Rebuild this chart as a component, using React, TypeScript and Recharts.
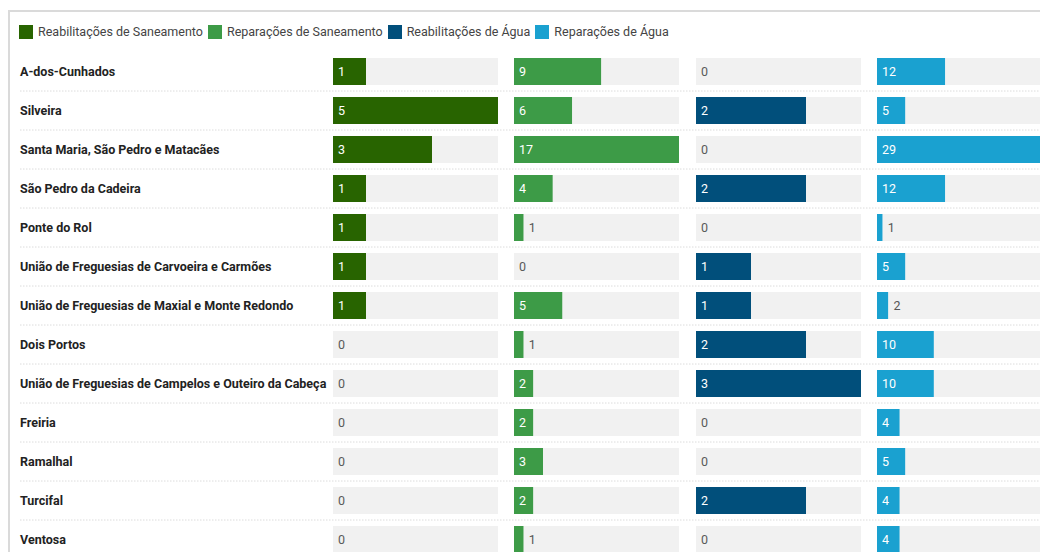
import React from 'react';
import { BarChart, Bar, XAxis, YAxis, Legend, LabelList } from 'recharts';

const freguesias = [
  'A-dos-Cunhados',
  'Silveira',
  'Santa Maria, São Pedro e Matacães',
  'São Pedro da Cadeira',
  'Ponte do Rol',
  'União de Freguesias de Carvoeira e Carmões',
  'União de Freguesias de Maxial e Monte Redondo',
  'Dois Portos',
  'União de Freguesias de Campelos e Outeiro da Cabeça',
  'Freiria',
  'Ramalhal',
  'Turcifal',
  'Ventosa',
];

const reabilitacoesSaneamento = [1, 5, 3, 1, 1, 1, 1, 0, 0, 0, 0, 0, 0];
const reparacoesSaneamento = [9, 6, 17, 4, 1, 0, 5, 1, 2, 2, 3, 2, 1];
const reabilitacoesAgua = [0, 2, 0, 2, 0, 1, 1, 2, 3, 0, 0, 2, 0];
const reparacoesAgua = [12, 5, 29, 12, 1, 5, 2, 10, 10, 4, 5, 4, 4];

const seriesNames = [
  'Reabilitações de Saneamento',
  'Reparações de Saneamento',
  'Reabilitações de Água',
  'Reparações de Água',
];
const seriesColors = ['#286400', '#3d9b47', '#014f7b', '#1aa1d0'];
const seriesValues = [reabilitacoesSaneamento, reparacoesSaneamento, reabilitacoesAgua, reparacoesAgua];

const maxes = seriesValues.map((v) => Math.max(...v));
const data = freguesias.map((name, i) => {
  const row: any = { name };
  seriesValues.forEach((vals, s) => {
    row[`v${s}`] = vals[i];
    row[`r${s}`] = maxes[s] - vals[i];
  });
  return row;
});

const CHART_H = 559;
const LABEL_W = 333;
const COL_W = 165;
const COL_PITCH = 181.33;
const TRACK = '#f1f1f1';
const FONT = 'Roboto, "Noto Sans", sans-serif';
const MARGIN = { top: 52, right: 0, bottom: 0, left: 0 };

const RowTick = (props: any) => {
  const { y, payload } = props;
  return (
    <g>
      <line x1={20} x2={1040} y1={y + 19.5} y2={y + 19.5} stroke="#dcdcdc" strokeDasharray="1.5 1.5" />
      <text x={20} y={y} dy="0.35em" textAnchor="start" fontSize={12.5} fontWeight={700} fill="#222" fontFamily={FONT}>
        {payload.value}
      </text>
    </g>
  );
};

const ValueLabel = (props: any) => {
  const { x, y, width, height, value } = props;
  const w = Number(width) || 0;
  if (!(Number(value) > 0) || w <= 0) return null;
  const tw = String(value).length * 7;
  const inside = w >= tw + 10;
  return (
    <text
      x={inside ? Number(x) + 5 : Number(x) + w + 5}
      y={Number(y) + Number(height) / 2}
      dy="0.35em"
      fontSize={12.5}
      fontFamily={FONT}
      fill={inside ? '#ffffff' : '#555555'}
    >
      {value}
    </text>
  );
};

const ZeroLabel = (props: any) => {
  const { x, y, height, value } = props;
  if (Number(value) !== 0) return null;
  return (
    <text x={Number(x) + 5} y={Number(y) + Number(height) / 2} dy="0.35em" fontSize={12.5} fontFamily={FONT} fill="#5a5a5a">
      {value}
    </text>
  );
};

const LegendContent = () => (
  <div style={{ display: 'flex', alignItems: 'center', fontSize: 12.5, color: '#444', fontFamily: FONT, whiteSpace: 'nowrap' }}>
    {seriesNames.map((name, s) => (
      <div key={name} style={{ display: 'flex', alignItems: 'center', marginRight: 5 }}>
        <span style={{ width: 14, height: 14, background: seriesColors[s], marginRight: 5, display: 'inline-block' }} />
        <span>{name}</span>
      </div>
    ))}
  </div>
);

function ColumnChart({ s }: { s: number }) {
  const first = s === 0;
  return (
    <BarChart
      width={first ? LABEL_W + COL_W : COL_W}
      height={CHART_H}
      data={data}
      layout="vertical"
      margin={MARGIN}
      barSize={27}
    >
      {first && (
        <Legend
          verticalAlign="middle"
          align="center"
          content={<LegendContent />}
          wrapperStyle={{ top: 24, left: 19, width: 'auto' }}
        />
      )}
      <XAxis type="number" domain={[0, maxes[s]]} allowDataOverflow hide />
      <YAxis
        type="category"
        dataKey="name"
        width={first ? LABEL_W : 0}
        hide={!first}
        interval={0}
        tickLine={false}
        axisLine={false}
        tick={<RowTick />}
      />
      <Bar dataKey={`v${s}`} name={seriesNames[s]} stackId="c" fill={seriesColors[s]} isAnimationActive={false}>
        <LabelList dataKey={`v${s}`} content={<ValueLabel />} />
      </Bar>
      <Bar dataKey={`r${s}`} stackId="c" fill={TRACK} legendType="none" isAnimationActive={false}>
        <LabelList dataKey={`v${s}`} content={<ZeroLabel />} />
      </Bar>
    </BarChart>
  );
}

export default function App() {
  return (
    <div style={{ position: 'absolute', left: 0, top: 0, width: 1040, height: 552, overflow: 'hidden', background: '#fff', fontFamily: FONT }}>
      <style>{`.recharts-surface{overflow:visible}`}</style>
      <div
        style={{
          position: 'absolute',
          left: 8,
          top: 10,
          width: 1100,
          height: 600,
          borderLeft: '2px solid #dadada',
          borderTop: '2px solid #dadada',
        }}
      />
      {seriesValues.map((_, s) => (
        <div
          key={s}
          style={{ position: 'absolute', top: 0, left: s === 0 ? 0 : LABEL_W + s * COL_PITCH }}
        >
          <ColumnChart s={s} />
        </div>
      ))}
    </div>
  );
}
